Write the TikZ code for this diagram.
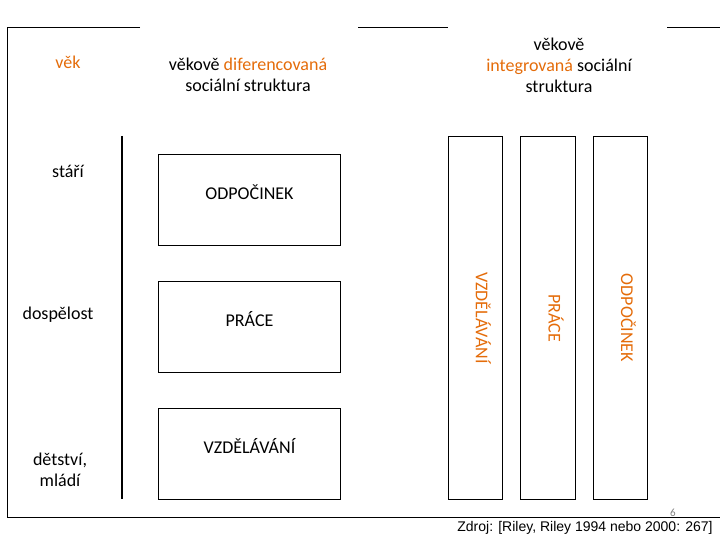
\documentclass[tikz,border=0pt]{standalone}
\usepackage{fontspec}
\setmainfont{Carlito}
\newfontfamily\arialf{Liberation Sans}
\definecolor{orng}{HTML}{E46C0A}
\begin{document}
\begin{tikzpicture}[x=1pt,y=-1pt,
  lbl/.style={font=\fontsize{18}{21}\selectfont, align=center, inner sep=0pt},
  hbox/.style={draw, line width=1pt, minimum width=182pt, minimum height=91pt, anchor=north west, inner sep=0pt},
  vbox/.style={draw, line width=1pt, anchor=north west, inner sep=0pt},
  htxt/.style={font=\fontsize{18}{21}\selectfont, inner sep=0pt},
  vtxt/.style={font=\fontsize{18}{21}\selectfont, text=orng, rotate=-90, inner sep=0pt},
  frame/.style={line width=1pt}]
\useasboundingbox (0,0) rectangle (720,540);
% frame
\coordinate (tl) at (7,28);
\coordinate (bl) at (7,517);
\coordinate (br) at (720,517);
\draw[frame] (140,28) -- (tl) -- (bl) -- (br);
\draw[frame] (358,28) -- (448,28);
\draw[frame] (667,28) -- (720,28);
% axis
\coordinate (ax1) at (122,136);
\coordinate (ax2) at (122,499);
\draw[line width=2.5pt] (ax1) -- (ax2);
% headers
\node[lbl, text=orng] (vek) at (68,62) {věk};
\node[lbl] (dif) at (248,75) {věkově \textcolor{orng}{diferencovaná}\\sociální struktura};
\node[lbl] (int) at (559,65) {věkově\\\textcolor{orng}{integrovaná} sociální\\struktura};
% age labels
\node[lbl] (stari) at (68,171) {stáří};
\node[lbl] (dosp) at (58,315) {dospělost};
\node[lbl] (deti) at (60,470) {dětství,\\mládí};
% left boxes
\node[hbox] (b1) at (158,154) {};
\node[hbox] (b2) at (158,281) {};
\node[hbox] (b3) at (158,408) {};
\node[htxt] at ([yshift=8pt]b1.center) {ODPOČINEK};
\node[htxt] at ([yshift=8pt]b2.center) {PRÁCE};
\node[htxt] at ([yshift=8pt]b3.center) {VZDĚLÁVÁNÍ};
% right vertical boxes
\node[vbox, minimum width=54pt, minimum height=363pt] (v1) at (448,136) {};
\node[vbox, minimum width=55pt, minimum height=363pt] (v2) at (520,136) {};
\node[vbox, minimum width=54pt, minimum height=363pt] (v3) at (593,136) {};
\node[vtxt] at ([xshift=8pt]v1.center) {VZDĚLÁVÁNÍ};
\node[vtxt] at ([xshift=8pt]v2.center) {PRÁCE};
\node[vtxt] at ([xshift=8pt]v3.center) {ODPOČINEK};
% footer
\node[font=\fontsize{11}{12}\selectfont, text=gray, inner sep=0pt] (pg) at (673,513) {6};
\node[font=\arialf\fontsize{14}{16}\selectfont, inner sep=0pt] (src) at (585,528) {Zdroj: [Riley, Riley 1994 nebo 2000: 267]};
\end{tikzpicture}
\end{document}
